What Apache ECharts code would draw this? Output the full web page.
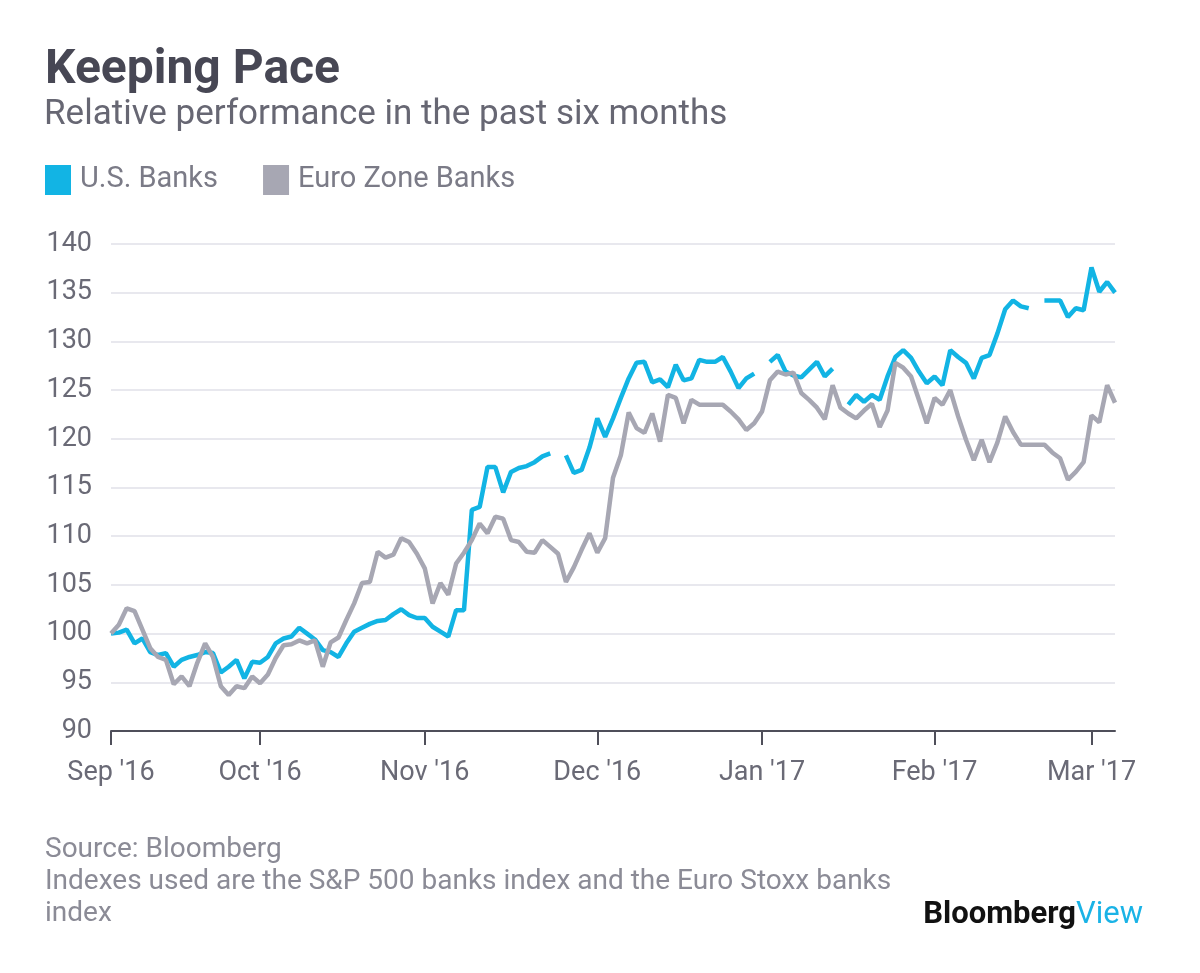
<!DOCTYPE html>
<html>
<head>
<meta charset="utf-8">
<script src="https://cdn.jsdelivr.net/npm/echarts@6/dist/echarts.min.js"></script>
<style>
  html, body { margin: 0; padding: 0; background: #ffffff; }
  #chart { width: 1200px; height: 973px; }
</style>
</head>
<body>
<div id="chart"></div>
<script>
// Trading days (weekdays) from 6 Sep 2016 to 6 Mar 2017; 26 Dec 2016 closed in both markets
const startDate = '2016-09-06';
const endDate = '2017-03-06';
const closedDays = ['2016-12-26'];

// U.S. Banks (S&P 500 banks index, rebased to 100); null = U.S. market holiday
const usBanks = [
  100.0, 100.1, 100.4, 99.0, 99.5, 98.1, 97.8, 98.0, 96.6, 97.3,
  97.6, 97.8, 98.1, 98.0, 96.0, 96.6, 97.3, 95.4, 97.1, 97.0,
  97.6, 99.0, 99.5, 99.7, 100.6, 100.0, 99.4, 98.3, 98.1, 97.6,
  99.0, 100.2, 100.6, 101.0, 101.3, 101.4, 102.0, 102.5, 101.9, 101.6,
  101.6, 100.7, 100.2, 99.7, 102.4, 102.4, 112.7, 113.0, 117.1, 117.1,
  114.5, 116.6, 117.0, 117.2, 117.6, 118.2, 118.5, null, 118.3, 116.5,
  116.8, 119.1, 122.1, 120.2, 122.1, 124.2, 126.2, 127.8, 127.9, 125.8,
  126.1, 125.3, 127.6, 126.0, 126.2, 128.1, 127.9, 127.9, 128.4, 126.9,
  125.2, 126.2, 126.7, null, 127.9, 128.6, 126.9, 126.5, 126.3, 127.1,
  127.9, 126.4, 127.2, null, 123.5, 124.5, 123.8, 124.5, 124.0, 126.4,
  128.4, 129.1, 128.3, 126.9, 125.7, 126.4, 125.5, 129.1, 128.4, 127.8,
  126.2, 128.3, 128.6, 130.8, 133.3, 134.2, 133.6, 133.4, null, 134.2,
  134.2, 134.2, 132.5, 133.4, 133.2, 137.6, 135.1, 136.1, 135.0
];

// Euro Zone Banks (Euro Stoxx banks index, rebased to 100)
const euroBanks = [
  100.0, 100.9, 102.6, 102.3, 100.4, 98.5, 97.6, 97.3, 94.8, 95.6,
  94.6, 97.0, 99.0, 97.6, 94.6, 93.7, 94.6, 94.4, 95.6, 94.9,
  95.8, 97.5, 98.8, 98.9, 99.3, 99.0, 99.3, 96.6, 99.1, 99.6,
  101.4, 103.1, 105.2, 105.3, 108.4, 107.8, 108.1, 109.8, 109.4, 108.2,
  106.7, 103.1, 105.2, 104.0, 107.2, 108.3, 109.6, 111.3, 110.3, 112.0,
  111.8, 109.6, 109.4, 108.4, 108.3, 109.6, 108.9, 108.2, 105.3, 106.8,
  108.6, 110.3, 108.3, 109.8, 116.0, 118.3, 122.7, 121.1, 120.6, 122.6,
  119.7, 124.5, 124.2, 121.6, 124.0, 123.5, 123.5, 123.5, 123.5, 122.8,
  122.0, 120.9, 121.6, 122.8, 126.0, 126.9, 126.6, 126.8, 124.7, 124.0,
  123.2, 122.0, 125.5, 123.2, 122.6, 122.1, 122.9, 123.6, 121.2, 122.9,
  127.8, 127.3, 126.4, 124.0, 121.6, 124.2, 123.5, 125.0, 122.3, 119.9,
  117.8, 119.9, 117.6, 119.6, 122.3, 120.7, 119.4, 119.4, 119.4, 119.4,
  118.6, 118.0, 115.8, 116.6, 117.6, 122.4, 121.7, 125.5, 123.7
];

const seriesNames = ['U.S. Banks', 'Euro Zone Banks'];
const monthNames = ['Jan','Feb','Mar','Apr','May','Jun','Jul','Aug','Sep','Oct','Nov','Dec'];
const yTicks = { min: 90, max: 140, interval: 5 };

// build the trading-day category list
function pad(n) { return (n < 10 ? '0' : '') + n; }
const dates = [];
(function () {
  const d = new Date(startDate + 'T12:00:00Z');
  const end = new Date(endDate + 'T12:00:00Z');
  while (d <= end) {
    const day = d.getUTCDay();
    const s = d.getUTCFullYear() + '-' + pad(d.getUTCMonth() + 1) + '-' + pad(d.getUTCDate());
    if (day !== 0 && day !== 6 && closedDays.indexOf(s) < 0) dates.push(s);
    d.setUTCDate(d.getUTCDate() + 1);
  }
})();

function isMonthStart(idx) {
  if (idx === 0) return true;
  return dates[idx].slice(0, 7) !== dates[idx - 1].slice(0, 7);
}

const axisColor = '#4f4f5a';
const labelColor = '#6a6a76';
const FONT = 'Roboto, "Noto Sans", sans-serif';

const chart = echarts.init(document.getElementById('chart'), null, { renderer: 'canvas' });
chart.setOption({
  animation: false,
  backgroundColor: '#ffffff',
  textStyle: { fontFamily: FONT },
  title: [
    { text: 'Keeping Pace', left: 40, top: 42,
      textStyle: { fontFamily: FONT, fontWeight: 'bold', fontSize: 48, color: '#474754' } },
    { text: 'Relative performance in the past six months', left: 39, top: 93,
      textStyle: { fontFamily: FONT, fontWeight: 'normal', fontSize: 35, color: '#676773' } },
    { text: 'Source: Bloomberg\nIndexes used are the S&P 500 banks index and the Euro Stoxx banks\nindex',
      left: 40, top: 829,
      textStyle: { fontFamily: FONT, fontWeight: 'normal', fontSize: 28, lineHeight: 32, color: '#8b8b96' } },
    { text: '{a|Bloomberg}{b|View}', right: 52, top: 895,
      textStyle: { rich: {
        a: { fontFamily: FONT, fontWeight: 'bold', fontSize: 31, color: '#111111' },
        b: { fontFamily: FONT, fontWeight: 'normal', fontSize: 31, color: '#1ab3e6' }
      } } }
  ],
  legend: {
    left: 40, top: 160,
    icon: 'rect', itemWidth: 26, itemHeight: 30, itemGap: 45,
    data: seriesNames,
    textStyle: { fontFamily: FONT, fontSize: 29, color: '#7b7b87', padding: [0, 0, 0, 4] }
  },
  grid: { left: 111, right: 85, top: 244, bottom: 242, containLabel: false },
  xAxis: {
    type: 'category',
    data: dates,
    boundaryGap: false,
    axisLine: { lineStyle: { color: axisColor, width: 2 } },
    axisTick: { show: true, interval: isMonthStart, length: 14, lineStyle: { color: axisColor, width: 2 } },
    axisLabel: {
      interval: isMonthStart,
      margin: 29,
      fontFamily: FONT, fontSize: 27, color: labelColor,
      formatter: function (v) {
        const m = parseInt(v.slice(5, 7), 10) - 1;
        return monthNames[m] + " '" + v.slice(2, 4);
      }
    },
    splitLine: { show: false }
  },
  yAxis: {
    type: 'value',
    min: yTicks.min, max: yTicks.max, interval: yTicks.interval,
    axisLine: { show: false },
    axisTick: { show: false },
    axisLabel: { margin: 19, fontFamily: FONT, fontSize: 27, color: labelColor },
    splitLine: { lineStyle: { color: '#e8e8ee', width: 2 } }
  },
  series: [
    { name: seriesNames[0], type: 'line', data: usBanks, symbol: 'none', connectNulls: false,
      itemStyle: { color: '#12b4e4' }, lineStyle: { color: '#12b4e4', width: 4.5 } },
    { name: seriesNames[1], type: 'line', data: euroBanks, symbol: 'none',
      itemStyle: { color: '#a7a7b3' }, lineStyle: { color: '#a7a7b3', width: 4.5 } }
  ]
});
</script>
</body>
</html>
